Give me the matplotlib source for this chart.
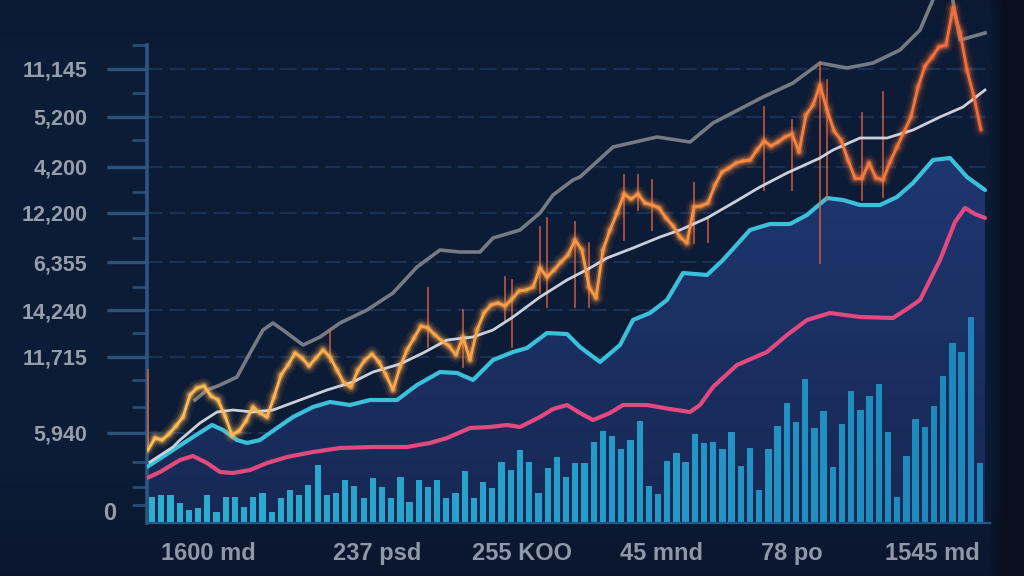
import numpy as np
import matplotlib
matplotlib.use("Agg")
import matplotlib.pyplot as plt
from matplotlib.collections import LineCollection
from matplotlib.colors import LinearSegmentedColormap
from matplotlib.patches import Polygon

# ---------------- data ----------------
y_tick_values = [90, 166, 213, 261, 310, 356, 406, 454]
y_tick_labels = ["5,940", "11,715", "14,240", "6,355", "12,200", "4,200", "5,200", "11,145"]
y_zero_value = 10
y_zero_label = "0"
y_minor_values = [18, 36, 61, 116, 143, 190, 236, 285, 331, 383, 430, 478]
x_tick_values = [61, 230, 375, 515, 645, 785]
x_tick_labels = ["1600 md", "237 psd", "255 KOO", "45 mnd", "78 po", "1545 md"]

volume = [26, 28, 28, 20, 13, 15, 28, 11, 26, 26, 16, 26, 30, 11, 25, 33, 28, 38, 58, 28,
          30, 43, 37, 25, 45, 36, 25, 46, 21, 43, 36, 43, 25,
          30, 52, 25, 41, 35, 61, 53, 73, 61, 30, 55, 66, 46, 60, 60, 81, 92, 87, 74, 83,
          102, 37, 29, 62, 70, 61, 89, 80, 81, 74, 91,
          57, 75, 33, 74, 97, 120, 101, 144, 95, 112, 56, 99, 132, 113, 127, 139, 91, 26,
          67, 104, 96, 117, 147, 180, 171, 206, 60]

price_close = [73, 85, 83, 89, 97, 106, 128, 135, 137, 127, 123, 107, 88, 92, 102, 116, 110, 106,
               126, 148, 158, 170, 165, 157, 165, 173, 166, 153, 140, 136, 153, 163, 169, 161,
               148, 133, 156, 173, 185, 197, 195, 188, 182, 177, 168, 186, 163, 193, 210, 218,
               220, 217, 224, 232, 233, 236, 255, 246, 253, 261, 268, 283, 273, 236, 225, 273,
               293, 310, 329, 324, 329, 320, 318, 315, 305, 297, 286, 280, 316, 317, 320, 338,
               351, 355, 360, 362, 363, 373, 382, 377, 381, 386, 389, 371, 408, 418, 438, 413,
               392, 383, 363, 345, 345, 360, 345, 343, 361, 376, 391, 406, 436, 457, 466, 476,
               478, 515, 491, 453, 426, 393]

wick_index = [0, 26, 40, 45, 51, 52, 56, 57, 61, 63, 68, 70, 72, 78, 80, 88, 92, 96, 97, 102, 105]
wick_high = [153, 193, 235, 213, 246, 243, 296, 305, 301, 280, 348, 348, 343, 340, 306, 416, 403,
             461, 443, 410, 431]
wick_low = [71, 161, 176, 156, 203, 176, 230, 216, 216, 216, 283, 313, 293, 280, 281, 333, 333,
            260, 323, 323, 326]

upper_x = [48, 60, 73, 90, 103, 116, 126, 140, 156, 173, 193, 220, 246, 270, 293, 313, 333, 346,
           373, 393, 406, 426, 433, 466, 510, 543, 566, 616, 646, 673, 700, 726, 753, 773, 788,
           803, 813, 838]
upper_y = [123, 133, 138, 146, 170, 193, 200, 190, 178, 186, 200, 213, 230, 256, 273, 271, 271,
           285, 293, 310, 328, 343, 346, 376, 386, 381, 400, 426, 440, 460, 455, 460, 473, 493,
           528, 538, 483, 490]

ma_x = [3, 26, 33, 53, 70, 86, 106, 126, 153, 180, 206, 226, 253, 276, 300, 326, 346, 366, 393,
        420, 443, 460, 486, 513, 533, 560, 586, 613, 640, 673, 686, 713, 740, 766, 793, 816, 838]
ma_y = [61, 76, 83, 100, 111, 113, 111, 113, 123, 133, 141, 151, 159, 170, 183, 186, 193, 206,
        226, 243, 255, 265, 275, 286, 293, 305, 320, 336, 350, 365, 373, 385, 385, 393, 406, 416,
        433]

band_x = [0, 26, 46, 65, 76, 90, 100, 113, 130, 146, 166, 183, 203, 223, 250, 270, 293, 310, 326,
          346, 366, 380, 400, 420, 433, 453, 473, 486, 503, 520, 536, 560, 576, 603, 623, 643,
          660, 680, 696, 713, 733, 750, 766, 786, 803, 820, 838]
band_y = [56, 73, 86, 98, 93, 83, 80, 83, 95, 106, 116, 121, 118, 123, 123, 138, 151, 150, 143,
          163, 171, 175, 190, 189, 176, 161, 178, 203, 210, 223, 250, 248, 263, 293, 299, 299,
          308, 325, 323, 318, 318, 326, 340, 363, 365, 346, 333]

pink_x = [0, 13, 33, 46, 60, 73, 86, 103, 120, 140, 166, 193, 226, 260, 283, 300, 323, 343, 360,
          373, 393, 406, 420, 433, 446, 463, 476, 500, 523, 543, 553, 566, 590, 620, 640, 660,
          683, 713, 746, 763, 773, 793, 808, 818, 828, 838]
pink_y = [45, 51, 63, 67, 60, 51, 50, 53, 60, 66, 71, 75, 76, 76, 80, 85, 95, 96, 98, 96, 106,
          114, 118, 110, 103, 110, 118, 118, 114, 111, 118, 136, 158, 171, 188, 203, 210, 206,
          205, 216, 223, 263, 301, 315, 309, 305]

# ---------------- figure ----------------
W, H = 1024, 576
fig = plt.figure(figsize=(W / 100, H / 100), dpi=100)

# background
yy, xx = np.mgrid[0:H, 0:W]
base = np.array([12, 27, 54]) / 255.0
dark = np.array([8, 15, 30]) / 255.0
fr = np.clip((xx - 988) / 20.0, 0, 1)
fv = np.clip((yy - 470) / 106.0, 0, 1) * 0.35 + np.clip((50 - yy) / 50.0, 0, 1) * 0.15
f = np.clip(fr + fv, 0, 1)[..., None]
bgimg = base[None, None, :] * (1 - f) + dark[None, None, :] * f
bg = fig.add_axes([0, 0, 1, 1], zorder=-5)
bg.imshow(bgimg, aspect="auto", extent=[0, 1, 0, 1], origin="upper")
bg.axis("off")

XMAX, YMAX = 843, 523
ax = fig.add_axes([147 / W, 53 / H, (990 - 147) / W, 523 / H])
ax.set_facecolor("none")

# grid lines
for v in y_tick_values:
    ax.plot([0, 840], [v, v], color="#1f3b62", lw=1.6, alpha=0.75,
            dashes=(7, 3), zorder=0.5, solid_capstyle="butt")

# gradient area under the cyan band
area_cmap = LinearSegmentedColormap.from_list("area", ["#172954", "#1f3772"])
grad = np.linspace(0, 1, 256)[:, None]
im = ax.imshow(grad, extent=[0, XMAX, 0, 380], origin="lower", aspect="auto",
               cmap=area_cmap, zorder=1)
verts = [(band_x[0], 0)] + list(zip(band_x, band_y)) + [(band_x[-1], 0)]
clip_poly = Polygon(verts, closed=True, facecolor="none", edgecolor="none",
                    transform=ax.transData)
ax.add_patch(clip_poly)
im.set_clip_path(clip_poly)

# volume bars
bar_x = 5 + 9.2 * np.arange(len(volume))
bar_cmap = LinearSegmentedColormap.from_list("bars", ["#2fb6d8", "#27a4d0", "#1f8cc0"])
bar_cols = bar_cmap(np.linspace(0, 1, len(volume)))
ax.bar(bar_x, volume, width=6.2, color=bar_cols, alpha=0.95, zorder=2, linewidth=0)

# pink line
ax.plot(pink_x, pink_y, color="#e2497e", lw=3.0, zorder=3, solid_capstyle="round")
# cyan band line
ax.plot(band_x, band_y, color="#3cc0da", lw=3.0, zorder=3, solid_capstyle="round")
# upper gray line
ax.plot(upper_x, upper_y, color="#7c8187", lw=2.6, zorder=3, alpha=0.95)

# orange price series
cx = 1 + 7 * np.arange(len(price_close))
pts = np.column_stack([cx, price_close])
segs = np.stack([pts[:-1], pts[1:]], axis=1)
or_cmap = LinearSegmentedColormap.from_list("or", ["#ffbf58", "#fba64a", "#f98f42", "#f26c3a"])
seg_cols = or_cmap(np.linspace(0, 1, len(segs)))

# wicks
for i, hi, lo in zip(wick_index, wick_high, wick_low):
    ax.plot([cx[i], cx[i]], [lo, hi], color="#e8623e", lw=1.3, alpha=0.75, zorder=3.5)

for lw, a in [(11, 0.06), (7, 0.12), (4.2, 0.3)]:
    gc = seg_cols.copy()
    gc[:, 3] = a
    ax.add_collection(LineCollection(segs, colors=gc, linewidths=lw, zorder=3.6,
                                     capstyle="round", joinstyle="round"))

# white moving average
ax.plot(ma_x, ma_y, color="#d6dae4", lw=2.0, zorder=3.8, alpha=0.95)

ax.add_collection(LineCollection(segs, colors=seg_cols, linewidths=2.0, zorder=4,
                                 capstyle="round", joinstyle="round"))

ax.set_xlim(0, XMAX)
ax.set_ylim(0, YMAX)

# spines
for s in ["top", "right"]:
    ax.spines[s].set_visible(False)
ax.spines["left"].set_color("#2a5680")
ax.spines["left"].set_linewidth(2.6)
ax.spines["left"].set_bounds(0, 478)
ax.spines["bottom"].set_color("#1d5c8a")
ax.spines["bottom"].set_linewidth(1.6)

font = ["Liberation Sans Narrow", "Liberation Sans", "DejaVu Sans"]
ax.set_yticks(y_tick_values)
ax.set_yticklabels(y_tick_labels, fontfamily=font, fontweight="bold", fontsize=15.5,
                   color="#959dab")
ax.set_yticks(y_minor_values, minor=True)
ax.tick_params(axis="y", which="major", length=29, width=2.4, color="#2b537b", pad=14)
ax.tick_params(axis="y", which="minor", length=11, width=2.0, color="#284c72")

# the "0" label sits closer to the axis and has no tick mark
ax.annotate(y_zero_label, xy=(0, y_zero_value), xycoords=("axes fraction", "data"),
            xytext=(-22, 0), textcoords="offset points", ha="right", va="center",
            fontfamily=font, fontweight="bold", fontsize=17, color="#959dab")

ax.set_xticks(x_tick_values)
ax.set_xticklabels(x_tick_labels, fontfamily=font, fontweight="bold", fontsize=17,
                   color="#8f98a8")
ax.tick_params(axis="x", which="major", length=0, pad=14)

fig.savefig("out.png", dpi=100)
